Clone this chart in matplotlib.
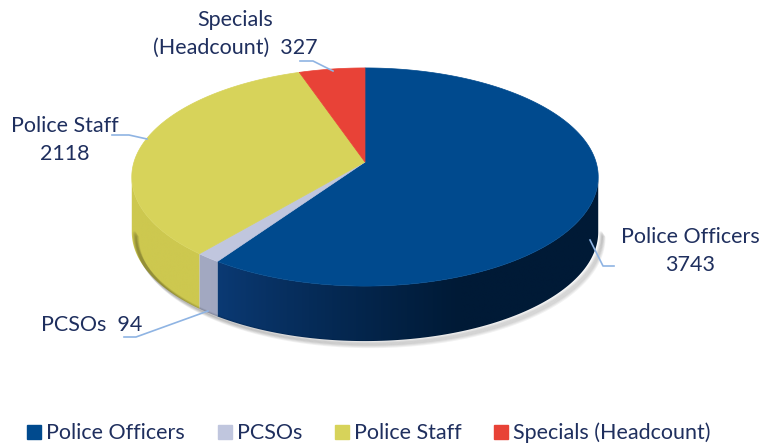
import numpy as np
import matplotlib.pyplot as plt
from matplotlib.patches import Polygon
from matplotlib.lines import Line2D
from matplotlib.colors import to_rgb

categories = ["Police Officers", "PCSOs", "Police Staff", "Specials (Headcount)"]
values = [3743, 94, 2118, 327]
label_texts = ["Police Officers\n3743", "PCSOs  94", "Police Staff\n2118", "Specials\n(Headcount)  327"]
top_colors = ["#004a8e", "#c0c6de", "#d7d35a", "#e84237"]
side_light = ["#0c3e7c", "#a3a9c2", "#cdc84f", "#c93428"]
side_dark = ["#001a36", "#969cb4", "#b2ad3c", "#a82a20"]
text_color = "#1f2f5e"

plt.rcParams['font.family'] = ['Lato', 'DejaVu Sans']

fig = plt.figure(figsize=(7.6, 4.45), dpi=100)
ax = fig.add_axes([0, 0, 1, 1])
ax.set_xlim(0, 760)
ax.set_ylim(445, 0)
ax.axis('off')

# pie geometry in pixels, with a little perspective (k) so the back looks smaller
cx, cy, rx, ry, k, depth = 365, 162, 231, 107, 0.1376, 55


def pt(t):
    w = 1 + k * np.sin(t)
    return cx + rx * np.cos(t) / w, cy - ry * np.sin(t) / w


# slice angles, clockwise from 12 o'clock
total = sum(values)
bounds = [np.pi / 2]
for v in values:
    bounds.append(bounds[-1] - 2 * np.pi * v / total)

# soft shadow under the front edge
t = np.linspace(np.pi + np.arcsin(k), 2 * np.pi - np.arcsin(k), 300)
sx, sy = pt(t)
for s in range(1, 7):
    ax.plot(sx + 2 + s * 0.6, sy + depth + s * 0.9, color='black', alpha=0.05, lw=2.5,
            solid_capstyle='round')

# side walls: only the front part between the outline's left and right extremes
vis_lo, vis_hi = np.pi + np.arcsin(k), 2 * np.pi - np.arcsin(k)
for i in range(len(values)):
    lo, hi = bounds[i + 1], bounds[i]
    for shift in (0, 2 * np.pi, -2 * np.pi):
        l, h = max(lo + shift, vis_lo), min(hi + shift, vis_hi)
        if h <= l:
            continue
        ts = np.linspace(l, h, 200)
        xs, ys = pt(ts)
        poly = Polygon(np.c_[np.r_[xs, xs[::-1]], np.r_[ys, ys[::-1] + depth]], closed=True,
                       fc='none', ec='none')
        ax.add_patch(poly)
        # horizontal gradient, lighter on the left, darker towards the right
        x0, x1 = xs.min() - 1, xs.max() + 1
        y0, y1 = ys.min() - 1, ys.max() + depth + 1
        gx = np.linspace(x0, x1, 256)
        f = np.clip((gx - 200) / 260, 0, 1) ** 0.8
        c_l, c_d = np.array(to_rgb(side_light[i])), np.array(to_rgb(side_dark[i]))
        grad = (c_l[None, :] * (1 - f[:, None]) + c_d[None, :] * f[:, None])[None, :, :]
        im = ax.imshow(grad, extent=(x0, x1, y1, y0), aspect='auto', interpolation='bilinear',
                       zorder=1)
        im.set_clip_path(poly)

# top faces
for i in range(len(values)):
    ts = np.linspace(bounds[i], bounds[i + 1], 200)
    xs, ys = pt(ts)
    ax.add_patch(Polygon(np.c_[np.r_[cx, xs], np.r_[cy, ys]], closed=True,
                         fc=top_colors[i], ec=top_colors[i], lw=0.5, zorder=2))

ax.set_xlim(0, 760)
ax.set_ylim(445, 0)

# data labels with leader lines
label_pos = [(690, 251), (92, 325), (65, 140), (235, 34)]
leaders = [[(590, 240), (603, 266), (614, 266)],
           [(208, 311), (136, 337), (124, 337)],
           [(147, 139), (129, 135), (112, 135)],
           [(333, 71), (313, 61), (300, 61)]]
for i in range(len(values)):
    ax.text(*label_pos[i], label_texts[i], ha='center', va='center', fontsize=15.5,
            color=text_color, linespacing=1.45, zorder=3)
    lx, ly = zip(*leaders[i])
    ax.plot(lx, ly, color='#8fb4e3', lw=1.2, zorder=3)

handles = [Line2D([], [], marker='s', ls='', color=c, markersize=10) for c in top_colors]
ax.legend(handles, categories, loc='lower center', bbox_to_anchor=(0.483, -0.04), ncol=4,
          frameon=False, fontsize=15.5, handletextpad=0.05, columnspacing=1.35,
          labelcolor=text_color, handlelength=1.0)

fig.savefig('out.png', dpi=100)
